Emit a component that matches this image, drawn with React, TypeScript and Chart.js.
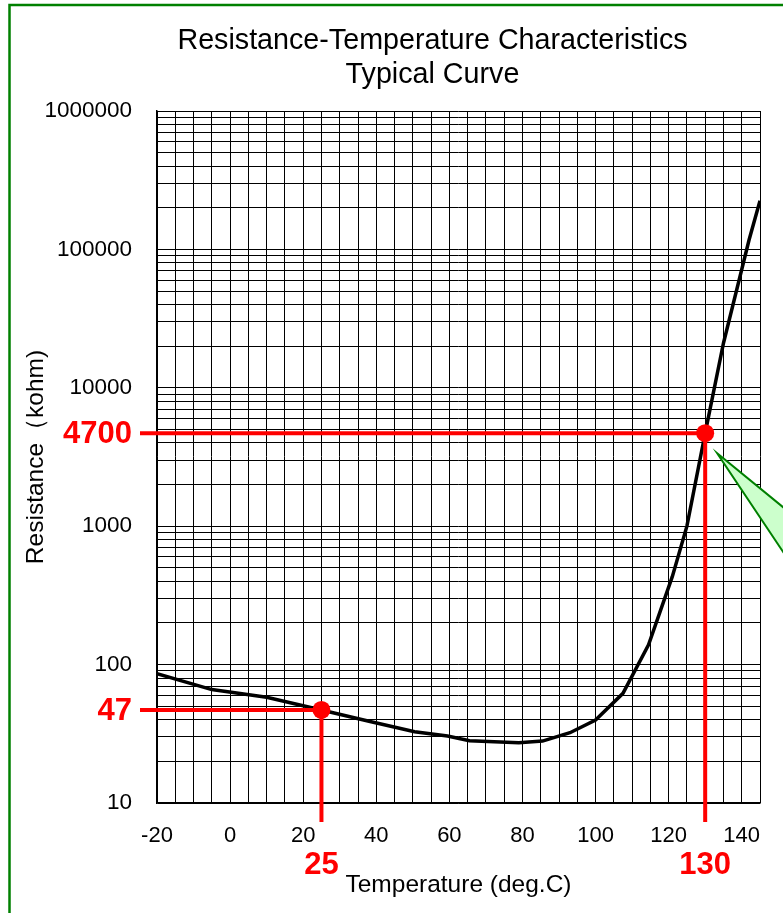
import React, { useEffect, useRef } from 'react';
import { Chart, registerables } from 'chart.js';

Chart.register(...registerables);

// ---- data ----
const temperatures = [-20, -5, 10, 25, 38, 50.5, 59.5, 65.5, 79, 85.5, 93, 100, 107.5, 114.5, 121, 125, 130, 135, 142, 145];
const resistances = [86, 66, 58, 47, 39, 32.7, 30.5, 28.2, 27.3, 28, 32.2, 39.8, 62, 139, 432, 1000, 4700, 21000, 117000, 225000];

const xTickLabels = [-20, 0, 20, 40, 60, 80, 100, 120, 140];
const yTickLabels = [10, 100, 1000, 10000, 100000, 1000000];
const yMultipliers = [1, 2, 3, 4, 5, 6, 7, 8, 9];

const markerTemps = [25, 130];
const markerValues = [47, 4700];

const titleLines = ['Resistance-Temperature Characteristics', 'Typical Curve'];
const xTitle = 'Temperature (deg.C)';
const yTitle = 'Resistance（kohm)';

const FONT = "'Liberation Sans', Arial, sans-serif";

const yGridValues: number[] = [];
yTickLabels.slice(0, -1).forEach((d) => yMultipliers.forEach((m) => yGridValues.push(d * m)));
yGridValues.push(yTickLabels[yTickLabels.length - 1]);

const overlayPlugin = {
  id: 'overlay',
  beforeDraw(chart: any) {
    const { ctx, width, height } = chart;
    ctx.save();
    ctx.fillStyle = '#ffffff';
    ctx.fillRect(0, 0, width, height);
    ctx.restore();
  },
  afterDatasetsDraw(chart: any) {
    const { ctx, scales } = chart;
    const x = scales.x;
    const y = scales.y;
    ctx.save();
    markerTemps.forEach((t, i) => {
      const px = x.getPixelForValue(t);
      const py = y.getPixelForValue(markerValues[i]);
      ctx.strokeStyle = '#ff0000';
      ctx.lineWidth = 4;
      ctx.lineCap = 'butt';
      ctx.beginPath();
      ctx.moveTo(140, py);
      ctx.lineTo(px, py);
      ctx.stroke();
      ctx.beginPath();
      ctx.moveTo(px, py);
      ctx.lineTo(px, y.bottom + 19);
      ctx.stroke();
      ctx.fillStyle = '#ff0000';
      ctx.beginPath();
      ctx.arc(px, py, 9, 0, Math.PI * 2);
      ctx.fill();
      ctx.font = `bold 31px ${FONT}`;
      ctx.textAlign = 'right';
      ctx.textBaseline = 'middle';
      ctx.fillText(String(markerValues[i]), 132, py + 1);
      ctx.textAlign = 'center';
      ctx.textBaseline = 'alphabetic';
      ctx.fillText(String(t), px, 874);
    });
    ctx.restore();
  },
  afterDraw(chart: any) {
    const { ctx, scales } = chart;
    const x = scales.x;
    const y = scales.y;
    ctx.save();
    // title
    ctx.fillStyle = '#000000';
    ctx.font = `28.7px ${FONT}`;
    ctx.textAlign = 'center';
    ctx.textBaseline = 'alphabetic';
    ctx.fillText(titleLines[0], 432.5, 49);
    ctx.fillText(titleLines[1], 432.5, 83);
    // green callout pointer
    const tipX = x.getPixelForValue(markerTemps[1]) + 12;
    const tipY = y.getPixelForValue(markerValues[1]) + 20;
    ctx.beginPath();
    ctx.moveTo(tipX, tipY);
    ctx.lineTo(tipX + 200, tipY + 200 * 0.819);
    ctx.lineTo(tipX + 200, tipY + 200 * 1.498);
    ctx.closePath();
    ctx.fillStyle = '#ccffcc';
    ctx.fill();
    ctx.strokeStyle = '#008000';
    ctx.lineWidth = 2;
    ctx.stroke();
    // outer border
    ctx.strokeStyle = '#008000';
    ctx.lineWidth = 2.5;
    ctx.strokeRect(9.5, 5, 2000, 2000);
    ctx.restore();
  },
};

export default function App() {
  const canvasRef = useRef<HTMLCanvasElement | null>(null);

  useEffect(() => {
    const canvas = canvasRef.current;
    if (!canvas) return;
    const chart = new Chart(canvas, {
      type: 'line',
      data: {
        datasets: [
          {
            data: temperatures.map((t, i) => ({ x: t, y: resistances[i] })),
            borderColor: '#000000',
            borderWidth: 3.5,
            pointRadius: 0,
            tension: 0,
            fill: false,
          },
        ],
      },
      options: {
        animation: false,
        responsive: false,
        devicePixelRatio: 1,
        events: [],
        layout: { padding: { top: 111, right: 23, bottom: 0, left: 0 } },
        plugins: {
          legend: { display: false },
          tooltip: { enabled: false },
          title: { display: false },
        },
        scales: {
          x: {
            type: 'linear',
            min: -20,
            max: 145,
            afterFit: (scale: any) => {
              scale.height = 110;
            },
            ticks: {
              stepSize: 5,
              autoSkip: false,
              maxRotation: 0,
              minRotation: 0,
              padding: 20,
              color: '#000000',
              font: { family: FONT, size: 22 },
              callback: (v: any) => (xTickLabels.includes(Number(v)) ? String(v) : ''),
            },
            grid: { color: '#000000', lineWidth: 1, drawTicks: false },
            border: { display: true, color: '#000000', width: 1.5 },
            title: {
              display: true,
              text: xTitle,
              color: '#000000',
              font: { family: FONT, size: 24.5 },
              padding: { top: 0, bottom: 13.5 },
            },
          },
          y: {
            type: 'logarithmic',
            min: 10,
            max: 1000000,
            afterFit: (scale: any) => {
              scale.width = 157;
            },
            afterBuildTicks: (scale: any) => {
              scale.ticks = yGridValues.map((v) => ({ value: v, major: yTickLabels.includes(v) }));
            },
            ticks: {
              autoSkip: false,
              padding: 25,
              color: '#000000',
              font: { family: FONT, size: 22.5 },
              callback: (v: any) => (yTickLabels.includes(Number(v)) ? String(v) : ''),
            },
            grid: { color: '#000000', lineWidth: 1, drawTicks: false },
            border: { display: true, color: '#000000', width: 1.5 },
            title: {
              display: true,
              text: yTitle,
              color: '#000000',
              font: { family: FONT, size: 24.5 },
              padding: { top: 22, bottom: 0 },
            },
          },
        },
      },
      plugins: [overlayPlugin],
    } as any);
    return () => chart.destroy();
  }, []);

  return (
    <div style={{ position: 'absolute', left: 0, top: 0, width: 783, height: 913, overflow: 'hidden' }}>
      <canvas ref={canvasRef} width={783} height={913} style={{ display: 'block' }} />
    </div>
  );
}
